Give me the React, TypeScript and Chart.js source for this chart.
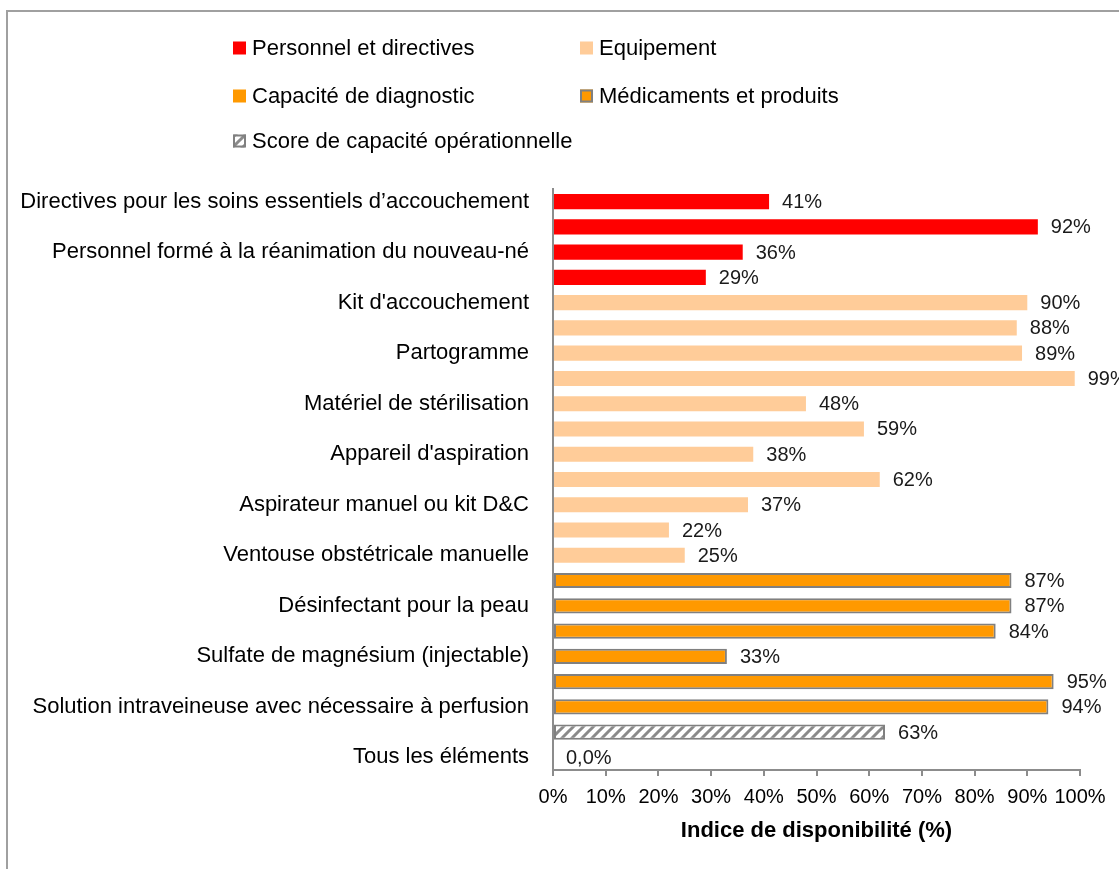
import React, { useEffect, useRef } from 'react';
import { Chart, registerables } from 'chart.js';

Chart.register(...registerables);

const categories: string[] = [
  'Directives pour les soins essentiels d\u2019accouchement', '',
  'Personnel formé à la réanimation du nouveau-né', '',
  "Kit d'accouchement", '',
  'Partogramme', '',
  'Matériel de stérilisation', '',
  "Appareil d'aspiration", '',
  'Aspirateur manuel ou kit D&C', '',
  'Ventouse obstétricale manuelle', '',
  'Désinfectant pour la peau', '',
  'Sulfate de magnésium (injectable)', '',
  'Solution intraveineuse avec nécessaire à perfusion', '',
  'Tous les éléments',
];

const values: number[] = [41, 92, 36, 29, 90, 88, 89, 99, 48, 59, 38, 62, 37, 22, 25, 87, 87, 84, 33, 95, 94, 63, 0];

// group index of each bar: 0 personnel, 1 équipement, 2 diagnostic, 3 médicaments, 4 score
const groups: number[] = [0, 0, 0, 0, 1, 1, 1, 1, 1, 1, 1, 1, 1, 1, 1, 3, 3, 3, 3, 3, 3, 4, 4];

const legendLabels: string[] = [
  'Personnel et directives',
  'Equipement',
  'Capacité de diagnostic',
  'Médicaments et produits',
  'Score de capacité opérationnelle',
];

const xTicks: number[] = [0, 10, 20, 30, 40, 50, 60, 70, 80, 90, 100];
const axisTitle = 'Indice de disponibilité (%)';

const FONT = "'Liberation Sans', Arial, sans-serif";
const GREY = '#8c8c8c';

function makeHatch(): CanvasPattern | string {
  const s = 10;
  const c = document.createElement('canvas');
  c.width = s;
  c.height = s;
  const g = c.getContext('2d');
  if (!g) return '#fff';
  g.fillStyle = '#ffffff';
  g.fillRect(0, 0, s, s);
  g.strokeStyle = '#8a8a8a';
  g.lineWidth = 3;
  g.beginPath();
  g.moveTo(-2, s + 2);
  g.lineTo(s + 2, -2);
  g.moveTo(-2, 2);
  g.lineTo(2, -2);
  g.moveTo(s - 2, s + 2);
  g.lineTo(s + 2, s - 2);
  g.stroke();
  const p = g.createPattern(c, 'repeat');
  return p || '#fff';
}

export default function App() {
  const ref = useRef<HTMLCanvasElement | null>(null);

  useEffect(() => {
    document.body.style.margin = '0';
    document.body.style.overflow = 'hidden';
    const canvas = ref.current;
    if (!canvas) return;
    const hatch = makeHatch();
    const fills = ['#FF0000', '#FFCC99', '#FF9900', '#FF9900', hatch];
    const borders = ['#FF0000', '#FFCC99', '#FF9900', '#808080', '#808080'];
    const bWidths = [0, 0, 0, 2, 2];

    const framePlugin = {
      id: 'frame',
      beforeDraw(chart: any) {
        const ctx = chart.ctx;
        ctx.save();
        ctx.fillStyle = '#ffffff';
        ctx.fillRect(0, 0, chart.width, chart.height);
        ctx.strokeStyle = '#a0a0a0';
        ctx.lineWidth = 2;
        ctx.beginPath();
        ctx.moveTo(7, chart.height);
        ctx.lineTo(7, 11);
        ctx.lineTo(chart.width, 11);
        ctx.stroke();
        ctx.restore();
      },
    };

    const legendPlugin = {
      id: 'customLegend',
      afterDraw(chart: any) {
        const ctx = chart.ctx;
        const pos = [
          [233, 48], [580, 48], [233, 96], [580, 96], [233, 141],
        ];
        ctx.save();
        ctx.font = `22px ${FONT}`;
        ctx.textBaseline = 'middle';
        ctx.textAlign = 'left';
        legendLabels.forEach((lab, i) => {
          const [x, y] = pos[i];
          const sz = 13;
          ctx.fillStyle = fills[i] as any;
          ctx.fillRect(x, y - sz / 2, sz, sz);
          if (bWidths[i] > 0) {
            ctx.strokeStyle = borders[i];
            ctx.lineWidth = 2;
            ctx.strokeRect(x + 1, y - sz / 2 + 1, sz - 2, sz - 2);
          }
          ctx.fillStyle = '#000000';
          ctx.fillText(lab, x + 19, y + 1);
        });
        ctx.restore();
      },
    };

    const labelPlugin = {
      id: 'valueLabels',
      afterDatasetsDraw(chart: any) {
        const ctx = chart.ctx;
        const meta = chart.getDatasetMeta(0);
        ctx.save();
        ctx.font = `20px ${FONT}`;
        ctx.fillStyle = '#1a1a1a';
        ctx.textBaseline = 'middle';
        ctx.textAlign = 'left';
        meta.data.forEach((bar: any, i: number) => {
          const v = values[i];
          const txt = v === 0 ? '0,0%' : `${v}%`;
          ctx.fillText(txt, bar.x + 13, bar.y + 1);
        });
        ctx.restore();
      },
    };

    const chart = new Chart(canvas, {
      type: 'bar',
      data: {
        labels: categories,
        datasets: [
          {
            data: values,
            backgroundColor: groups.map((g) => fills[g]) as any,
            borderColor: groups.map((g) => borders[g]),
            borderWidth: groups.map((g) => bWidths[g]),
            borderSkipped: false,
            barPercentage: 0.6,
            categoryPercentage: 1,
          },
        ],
      },
      options: {
        indexAxis: 'y',
        responsive: false,
        animation: false,
        layout: { padding: { top: 189, left: 0, right: 39, bottom: 0 } },
        plugins: {
          legend: { display: false },
          tooltip: { enabled: false },
        },
        scales: {
          x: {
            min: 0,
            max: 100,
            afterBuildTicks: (s: any) => {
              s.ticks = xTicks.map((v) => ({ value: v }));
            },
            afterFit: (s: any) => {
              s.height = 99;
            },
            ticks: {
              autoSkip: false,
              callback: (v: any) => `${v}%`,
              font: { family: FONT, size: 20 },
              color: '#000000',
              padding: 9,
              maxRotation: 0,
            },
            grid: {
              drawOnChartArea: false,
              drawTicks: true,
              tickLength: 6,
              color: GREY,
              lineWidth: 2,
            },
            border: { color: GREY, width: 2 },
            title: {
              display: true,
              text: axisTitle,
              font: { family: FONT, size: 22, weight: 'bold' },
              color: '#000000',
              padding: { top: 4, bottom: 25 },
            },
          },
          y: {
            afterFit: (s: any) => {
              s.width = 553;
            },
            ticks: {
              autoSkip: false,
              font: { family: FONT, size: 22 },
              color: '#000000',
              padding: 24,
            },
            grid: {
              drawOnChartArea: false,
              drawTicks: false,
              offset: true,
            },
            border: { color: GREY, width: 2 },
          },
        },
      },
      plugins: [framePlugin, legendPlugin, labelPlugin],
    });

    return () => {
      chart.destroy();
    };
  }, []);

  return (
    <div style={{ width: 1119, height: 869, overflow: 'hidden' }}>
      <canvas ref={ref} width={1119} height={869} style={{ display: 'block' }} />
    </div>
  );
}
